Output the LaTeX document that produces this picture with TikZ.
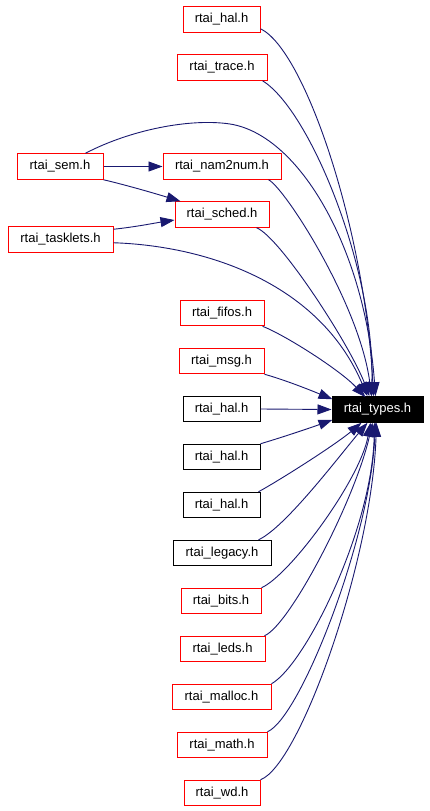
\documentclass[tikz,border=0pt]{standalone}
\usepackage{fontspec}
\setmainfont{Liberation Sans}
\usetikzlibrary{arrows.meta,calc}
\definecolor{edgecol}{HTML}{191970}
\begin{document}
\begin{tikzpicture}[x=1pt,y=-1pt,
  filebox/.style={draw=red,line width=1pt,minimum height=25.5pt,inner sep=0pt,font=\fontsize{13}{15}\selectfont},
  plainbox/.style={filebox,draw=black},
  mainbox/.style={filebox,draw=black,fill=black,text=white},
  dep/.style={draw=edgecol,line width=0.9pt,-{Triangle[length=14pt,width=10pt]}}]
\useasboundingbox (0,0) rectangle (429,811);
\fill[white] (0,0) rectangle (429,811);
% nodes
\node[filebox,minimum width=77pt] (halA) at (221.5,19.5) {rtai\_hal.h};
\node[filebox,minimum width=90pt] (trace) at (222,67.5) {rtai\_trace.h};
\node[filebox,minimum width=86pt] (sem) at (60,166.5) {rtai\_sem.h};
\node[filebox,minimum width=118pt] (nam) at (222,166.5) {rtai\_nam2num.h};
\node[filebox,minimum width=94pt] (sched) at (222,214.5) {rtai\_sched.h};
\node[filebox,minimum width=105pt] (task) at (60.5,239.5) {rtai\_tasklets.h};
\node[filebox,minimum width=84pt] (fifos) at (222,313) {rtai\_fifos.h};
\node[filebox,minimum width=85pt] (msg) at (221.5,361) {rtai\_msg.h};
\node[plainbox,minimum width=77pt] (halB) at (221.5,409) {rtai\_hal.h};
\node[mainbox,minimum width=91pt] (types) at (377.5,409.5) {rtai\_types.h};
\node[plainbox,minimum width=77pt] (halC) at (221.5,457) {rtai\_hal.h};
\node[plainbox,minimum width=77pt] (halD) at (221.5,505) {rtai\_hal.h};
\node[plainbox,minimum width=98pt] (legacy) at (222,553) {rtai\_legacy.h};
\node[filebox,minimum width=80pt] (bits) at (221,601) {rtai\_bits.h};
\node[filebox,minimum width=85pt] (leds) at (222.5,649) {rtai\_leds.h};
\node[filebox,minimum width=99pt] (malloc) at (221.5,697) {rtai\_malloc.h};
\node[filebox,minimum width=90pt] (math) at (222,745) {rtai\_math.h};
\node[filebox,minimum width=76pt] (wd) at (222,793) {rtai\_wd.h};
% edges
\draw[dep] (sem.east) -- (nam.west);
\draw[dep] (sem.south east) .. controls (130,186) and (160,195) .. ($(sched.north west)+(6,0)$);
\draw[dep] ($(task.north east)+(0,3)$) .. controls (135,227) and (155,223) .. ($(sched.west)+(0,5.5)$);
\draw[dep] ($(halA.south east)+(0,-4)$) .. controls (305,50) and (365,230) .. ($(types.north west)+(42,0)$);
\draw[dep] ($(trace.south east)+(-5,0)$) .. controls (310,110) and (375,270) .. ($(types.north west)+(40,0)$);
\draw[dep] ($(sem.north east)+(-18,0)$) .. controls (130,130) and (190,118) .. (230,124)
  .. controls (300,135) and (365,250) .. ($(types.north west)+(44,0)$);
\draw[dep] ($(nam.south east)+(-13,0)$) .. controls (285,188) and (360,305) .. ($(types.north west)+(40,0)$);
\draw[dep] ($(sched.south east)+(-13,0)$) .. controls (280,237) and (350,345) .. ($(types.north west)+(38,0)$);
\draw[dep] ($(task.south east)+(0,-10)$) .. controls (210,246) and (320,285) .. ($(types.north west)+(36,0)$);
\draw[dep] ($(fifos.south east)+(-2,0)$) .. controls (285,335) and (340,370) .. ($(types.north west)+(34,1)$);
\draw[dep] (msg.south east) .. controls (285,380) and (310,390) .. ($(types.north west)+(1,3)$);
\draw[dep] (halB.east) -- (types.west);
\draw[dep] (halC.north east) .. controls (280,438) and (310,428) .. ($(types.south west)+(1,-3)$);
\draw[dep] ($(halD.north east)+(-2,0)$) .. controls (280,480) and (335,445) .. ($(types.south west)+(30,0)$);
\draw[dep] ($(legacy.north east)+(-13,0)$) .. controls (285,528) and (340,455) .. ($(types.south west)+(36,0)$);
\draw[dep] (bits.north east) .. controls (290,575) and (360,480) .. ($(types.south west)+(39,0)$);
\draw[dep] ($(leds.north east)+(-1,0)$) .. controls (290,625) and (355,500) .. ($(types.south west)+(41,0)$);
\draw[dep] (malloc.north east) .. controls (305,665) and (372,530) .. ($(types.south west)+(43,0)$);
\draw[dep] (math.north east) .. controls (300,718) and (370,540) .. ($(types.south west)+(44,0)$);
\draw[dep] (wd.north east) .. controls (300,765) and (372,560) .. ($(types.south west)+(45,0)$);
\end{tikzpicture}
\end{document}
